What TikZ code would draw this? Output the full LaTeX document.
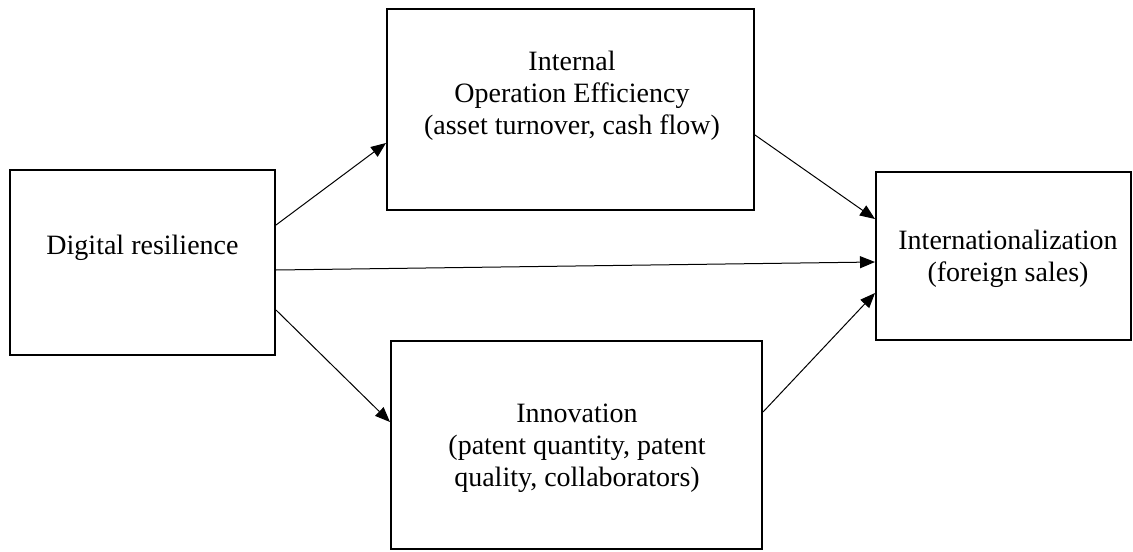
\documentclass[tikz,border=0pt]{standalone}
\usepackage{fontspec}
\setmainfont{Liberation Serif}
\usetikzlibrary{arrows.meta}

\begin{document}
\begin{tikzpicture}[x=0.5pt,y=-0.5pt,>={Triangle[length=7.5pt,width=6pt]},
    box/.style={draw,line width=1pt,inner sep=0pt},
    txt/.style={align=center,font=\fontsize{14}{16}\selectfont}]

                \useasboundingbox (0,0) rectangle (1133,551);

                % frames
                \node[box,minimum width=132.5pt,minimum height=92.5pt] (dr) at (142.5,262.5) {};
                \node[box,minimum width=183.5pt,minimum height=100.5pt] (ioe) at (570.5,109.5) {};
                \node[box,minimum width=185.5pt,minimum height=104pt] (inn) at (576.5,445) {};
                \node[box,minimum width=127.5pt,minimum height=84pt] (irn) at (1003.5,256) {};

                % texts
                \node[txt] (drt) at (142.5,248) {Digital resilience};
                \node[txt] (ioet) at (572,96) {Internal\\Operation Efficiency\\(asset turnover, cash flow)};
                \node[txt] (innt) at (577,448) {Innovation\\(patent quantity, patent\\quality, collaborators)};
                \node[txt] (irnt) at (1008,258.5) {Internationalization\\(foreign sales)};

                \path[->,line width=0.5pt]
                    ([shift={(0,-37.5)}]dr.east) edge ([shift={(0,33.5)}]ioe.west)
                    ([shift={(0,7.5)}]dr.east) edge ([shift={(0,6)}]irn.west)
                    ([shift={(0,47.5)}]dr.east) edge ([shift={(0,-23)}]inn.west)
                    ([shift={(0,25.5)}]ioe.east) edge ([shift={(0,-37)}]irn.west)
                    ([shift={(0,-33)}]inn.east) edge ([shift={(0,37)}]irn.west);

            \end{tikzpicture}
\end{document}
